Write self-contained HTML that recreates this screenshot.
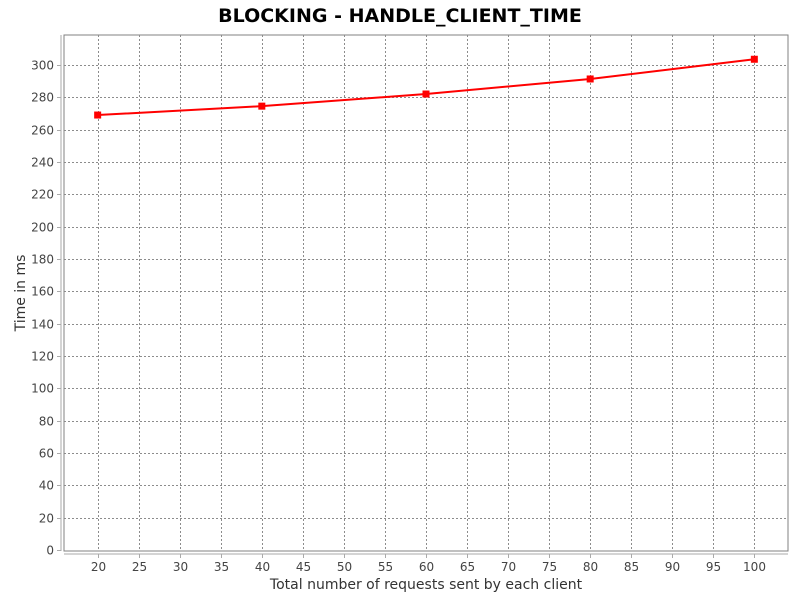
<!DOCTYPE html>
<html><head><meta charset="utf-8"><style>
body{margin:0;background:#fff;}
svg text{font-family:"DejaVu Sans","Liberation Sans",sans-serif;}
</style></head><body>
<svg id="chart" width="800" height="600" xmlns="http://www.w3.org/2000/svg">
<rect x="0" y="0" width="800" height="600" fill="#fff"/>
<text x="400" y="22" text-anchor="middle" font-size="19" font-weight="bold" fill="#000">BLOCKING - HANDLE_CLIENT_TIME</text>
<rect x="64" y="35" width="724" height="516" fill="#fff" stroke="#808080" stroke-width="1"/>
<g id="grid"></g>
<g id="axes"></g>
<g id="series"></g>
<text x="426" y="589" text-anchor="middle" font-size="14" fill="#333">Total number of requests sent by each client</text>
<text transform="translate(25,293) rotate(-90)" text-anchor="middle" font-size="14" fill="#333">Time in ms</text>
</svg>
<script>
const xValues=[20,40,60,80,100];
const yValues=[269,274.5,282,291.3,303.5];
const xTicks=[20,25,30,35,40,45,50,55,60,65,70,75,80,85,90,95,100];
const yTicks=[0,20,40,60,80,100,120,140,160,180,200,220,240,260,280,300];
const NS="http://www.w3.org/2000/svg";
const L=64,R=788,T=35,B=551;
const xmin=15.9,xmax=104.1,ymin=0,ymax=318.5;
const sx=v=>L+(v-xmin)/(xmax-xmin)*(R-L);
const sy=v=>B-1-(v-ymin)/(ymax-ymin)*(B-1-T);
function mk(tag,attrs,parent){const e=document.createElementNS(NS,tag);for(const k in attrs)e.setAttribute(k,attrs[k]);parent.appendChild(e);return e;}
const grid=document.getElementById('grid'),axes=document.getElementById('axes'),series=document.getElementById('series');
mk('line',{x1:61,y1:T,x2:61,y2:B,stroke:'#aaa'},axes);
mk('line',{x1:L,y1:554,x2:R,y2:554,stroke:'#aaa'},axes);
xTicks.forEach(v=>{const x=Math.round(sx(v))+0.5;
 const g=mk('line',{x1:x,y1:T,x2:x,y2:B,stroke:'#8c8c8c','stroke-dasharray':'2,2'},grid);
 
 mk('line',{x1:x,y1:554,x2:x,y2:558,stroke:'#aaa'},axes);
 const t=mk('text',{x:x,y:571,'text-anchor':'middle','font-size':12,fill:'#444'},axes);t.textContent=v;
 });
yTicks.forEach(v=>{const y=Math.round(sy(v))+0.5;
 if(v>0){const g=mk('line',{x1:L,y1:y,x2:R,y2:y,stroke:'#8c8c8c','stroke-dasharray':'2,2'},grid);
 }
 mk('line',{x1:57,y1:y,x2:61,y2:y,stroke:'#aaa'},axes);
 const t=mk('text',{x:54,y:y+4,'text-anchor':'end','font-size':12,fill:'#444'},axes);t.textContent=v;
 });
const pts=xValues.map((v,i)=>sx(v)+','+sy(yValues[i])).join(' ');
const pl=mk('polyline',{points:pts,fill:'none',stroke:'#f00','stroke-width':2},series);

xValues.forEach((v,i)=>{const r=mk('rect',{x:sx(v)-3.5,y:sy(yValues[i])-3.5,width:7,height:7,fill:'#f00'},series);
 });
</script>
</body></html>
